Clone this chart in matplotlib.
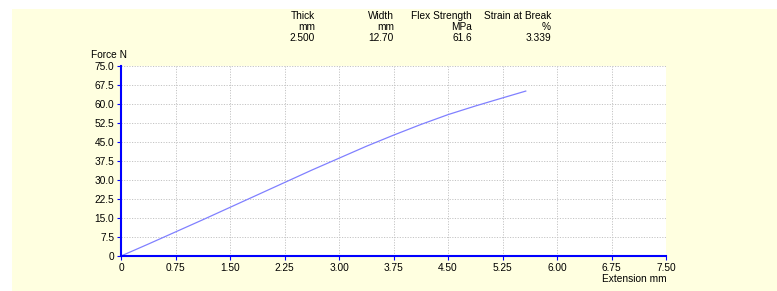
import matplotlib.pyplot as plt
from matplotlib.patches import Rectangle

plt.rcParams['font.family'] = ['Liberation Sans', 'DejaVu Sans']

# force / extension curve
extension = [0, 0.375, 0.75, 1.125, 1.5, 1.875, 2.25, 2.625, 3.0, 3.375, 3.75, 4.125, 4.5, 4.875, 5.25, 5.57]
force = [0, 4.7, 9.5, 14.3, 19.2, 24.1, 29.0, 33.9, 38.6, 43.3, 47.7, 51.9, 55.8, 59.2, 62.4, 65.1]

header_names = ['Thick', 'Width', 'Flex Strength', 'Strain at Break']
header_units = ['mm', 'mm', 'MPa', '%']
header_values = ['2.500', '12.70', '61.6', '3.339']
header_right = [315, 394, 472, 551]

xticks = [0, 0.75, 1.5, 2.25, 3.0, 3.75, 4.5, 5.25, 6.0, 6.75, 7.5]
xlabels = ['0', '0.75', '1.50', '2.25', '3.00', '3.75', '4.50', '5.25', '6.00', '6.75', '7.50']
yticks = [0, 7.5, 15, 22.5, 30, 37.5, 45, 52.5, 60, 67.5, 75]
ylabels = ['0', '7.5', '15.0', '22.5', '30.0', '37.5', '45.0', '52.5', '60.0', '67.5', '75.0']

W, H = 777, 291
fs = 7.3
fig = plt.figure(figsize=(W / 100, H / 100), dpi=100)
fig.patch.set_facecolor('white')
fig.patches.append(Rectangle((12 / W, 0), 1 - 12 / W, 1 - 9 / H, transform=fig.transFigure,
                             facecolor='#ffffe0', edgecolor='none', zorder=-5))

ax = fig.add_axes([121 / W, (H - 256) / H, (666 - 121) / W, (256 - 66) / H])
ax.set_zorder(2)
ax.set_facecolor('white')
ax.plot(extension, force, color='#8080ff', lw=0.9)
ax.set_xlim(0, 7.5)
ax.set_ylim(0, 75)
ax.set_xticks(xticks)
ax.set_xticklabels(xlabels)
ax.set_yticks(yticks)
ax.set_yticklabels(ylabels)
ax.grid(True, color='#c4c4c4', linestyle=(0, (1.2, 1.5)), lw=0.7)
for s in ['top', 'right']:
    ax.spines[s].set_visible(False)
for s in ['left', 'bottom']:
    ax.spines[s].set_color('#0000ff')
    ax.spines[s].set_linewidth(1.5)
ax.tick_params(colors='#0000ff', labelcolor='black', labelsize=fs, length=3, width=0.8, pad=2)

fig.text(91 / W, 1 - 55 / H, 'Force N', fontsize=fs, va='center', ha='left')
fig.text(666 / W + 0.5 / W, 1 - 279 / H, 'Extension mm', fontsize=fs, va='center', ha='right')

for i in range(len(header_names)):
    x = header_right[i] / W
    fig.text(x, 1 - 16 / H, header_names[i], fontsize=fs, ha='right', va='center')
    fig.text(x, 1 - 27 / H, header_units[i], fontsize=fs, ha='right', va='center')
    fig.text(x, 1 - 38 / H, header_values[i], fontsize=fs, ha='right', va='center')

fig.savefig('out.png', dpi=100)
